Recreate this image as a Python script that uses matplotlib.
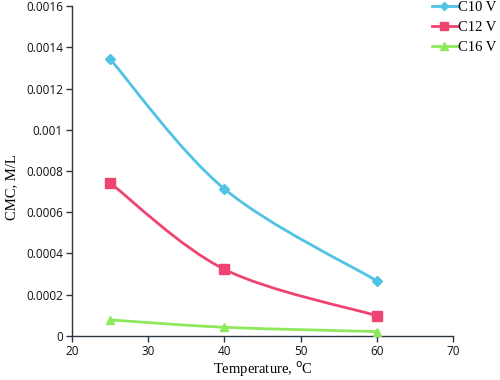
import numpy as np
import matplotlib
matplotlib.use('Agg')
import matplotlib.pyplot as plt
from matplotlib.path import Path
from matplotlib.patches import PathPatch
from matplotlib.lines import Line2D

temperature = [25, 40, 60]
c10_v = [0.001343, 0.000713, 0.000267]
c12_v = [0.000742, 0.000323, 0.000098]
c16_v = [0.000078, 0.000042, 0.000021]

series_names = ['C10 V', 'C12 V', 'C16 V']
series_colors = ['#4ec3e3', '#ee4470', '#8ee85c']
series_markers = ['D', 's', '^']
marker_sizes = [5, 7, 6]

x_ticks = [20, 30, 40, 50, 60, 70]
y_ticks = [0, 0.0002, 0.0004, 0.0006, 0.0008, 0.001, 0.0012, 0.0014, 0.0016]
y_tick_labels = ['0', '0.0002', '0.0004', '0.0006', '0.0008', '0.001', '0.0012', '0.0014', '0.0016']


def smooth_path(xs, ys, tension=1.0 / 6):
    # Excel-like smoothed line: cubic bezier segments with catmull-rom style handles
    xs = np.asarray(xs, dtype=float)
    ys = np.asarray(ys, dtype=float)
    n = len(xs)
    verts = [(xs[0], ys[0])]
    codes = [Path.MOVETO]
    for i in range(n - 1):
        p0 = (xs[max(i - 1, 0)], ys[max(i - 1, 0)])
        p1 = (xs[i], ys[i])
        p2 = (xs[i + 1], ys[i + 1])
        p3 = (xs[min(i + 2, n - 1)], ys[min(i + 2, n - 1)])
        c1 = (p1[0] + (p2[0] - p0[0]) * tension, p1[1] + (p2[1] - p0[1]) * tension)
        c2 = (p2[0] - (p3[0] - p1[0]) * tension, p2[1] - (p3[1] - p1[1]) * tension)
        verts += [c1, c2, p2]
        codes += [Path.CURVE4] * 3
    return Path(verts, codes)


fig = plt.figure(figsize=(5, 3.8), dpi=100)
ax = fig.add_axes([0.144, 0.116, 0.762, 0.868])

tick_font = 'Open Sans'
serif = 'Liberation Serif'

handles = []
for name, ys, col, mk, ms in zip(series_names, [c10_v, c12_v, c16_v],
                                 series_colors, series_markers, marker_sizes):
    ax.add_patch(PathPatch(smooth_path(temperature, ys), facecolor='none',
                           edgecolor=col, linewidth=2.0, zorder=2))
    ax.plot(temperature, ys, linestyle='none', marker=mk, markersize=ms,
            color=col, zorder=3)
    handles.append(Line2D([], [], color=col, linewidth=2.0, marker=mk, markersize=ms * 0.85))

ax.set_xlim(20, 70)
ax.set_ylim(0, 0.0016)
ax.set_xticks(x_ticks)
ax.set_yticks(y_ticks)
ax.set_yticklabels(y_tick_labels)

for s in ['top', 'right']:
    ax.spines[s].set_visible(False)
for s in ['left', 'bottom']:
    ax.spines[s].set_color('#2b3540')
    ax.spines[s].set_linewidth(1.0)
ax.tick_params(axis='both', direction='out', length=4, width=1.0, color='#2b3540',
               labelsize=8.5, labelcolor='#111111', pad=2.5)
for lab in ax.get_xticklabels() + ax.get_yticklabels():
    lab.set_fontfamily(tick_font)

ax.set_xlabel('Temperature, $^{\\mathrm{o}}$C', fontfamily=serif, fontsize=10.5, labelpad=1)
ax.set_ylabel('CMC, M/L', fontfamily=serif, fontsize=10.5)
ax.yaxis.set_label_coords(-0.14, 0.45)

leg = fig.legend(handles, series_names, loc='upper left', bbox_to_anchor=(0.864, 0.997),
                 frameon=False, prop={'family': serif, 'size': 10.5},
                 handlelength=1.7, handletextpad=0.1, labelspacing=0.45,
                 borderpad=0, borderaxespad=0)

fig.savefig('out.png', dpi=100)
